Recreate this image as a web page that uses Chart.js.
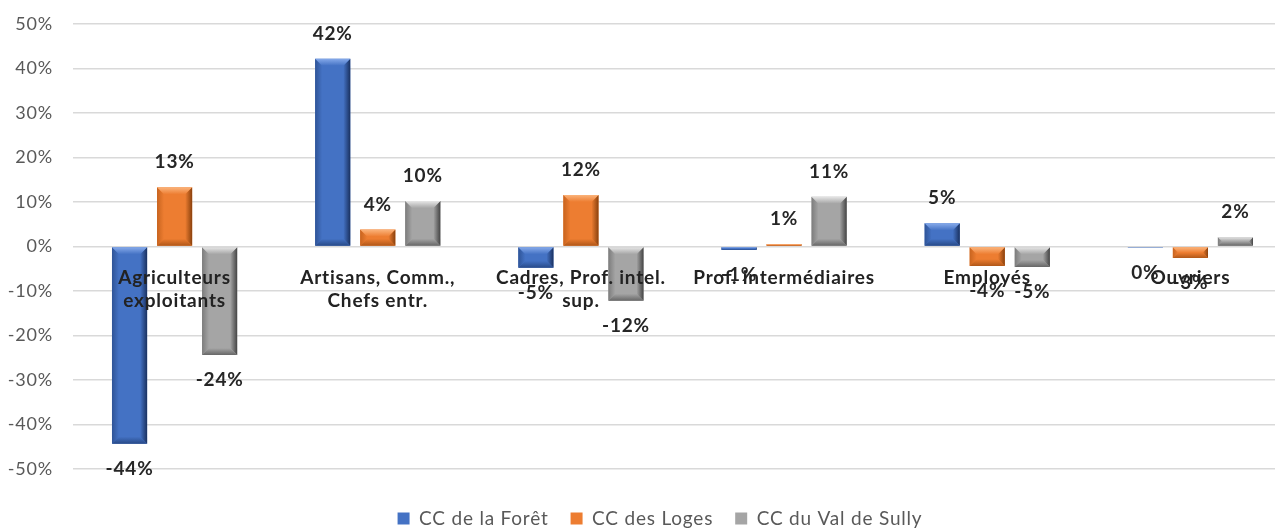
<!DOCTYPE html>
<html lang="fr">
<head>
<meta charset="utf-8">
<title>Évolution des CSP</title>
<script src="https://cdn.jsdelivr.net/npm/chart.js@4.4.1/dist/chart.umd.min.js"></script>
<style>
  html, body { margin: 0; padding: 0; background: #fff; overflow: hidden; }
  #wrap { width: 1320px; height: 538px; }
</style>
</head>
<body>
<div id="wrap"><canvas id="csp" width="1320" height="538"></canvas></div>
<script>
// catégories socio-professionnelles (axe X)
const categories = [
  ["Agriculteurs", "exploitants"],
  ["Artisans, Comm.,", "Chefs entr."],
  ["Cadres, Prof. intel.", "sup."],
  "Prof. intermédiaires",
  "Employés",
  "Ouvriers",
];

// évolution en % par communauté de communes
const seriesNames = ["CC de la Forêt", "CC des Loges", "CC du Val de Sully"];
const foret = [-44.3, 42.2, -4.8, -0.8, 5.2, -0.3];
const loges = [13.3, 3.8, 11.6, 0.5, -4.4, -2.6];
const sully = [-24.4, 10.2, -12.2, 11.2, -4.6, 2.1];

// graduations de l'axe Y
const yMin = -50;
const yMax = 50;
const yStep = 10;

// couleurs : face + biseaux (haut, gauche, droite, bas)
const shades = [
  { face: "#4472c4", top: "#86aaea", left: "#2f5497", right: "#1a3160", bottom: "#284a88" },
  { face: "#ed7d31", top: "#fbb47c", left: "#c8641f", right: "#8a410d", bottom: "#b05718" },
  { face: "#a5a5a5", top: "#e6e6e6", left: "#7c7c7c", right: "#444444", bottom: "#666666" },
];

function poly(ctx, pts, fill) {
  ctx.beginPath();
  ctx.moveTo(pts[0][0], pts[0][1]);
  for (let i = 1; i < pts.length; i++) ctx.lineTo(pts[i][0], pts[i][1]);
  ctx.closePath();
  ctx.fillStyle = fill;
  ctx.fill();
}

function grad(ctx, x0, y0, x1, y1, c0, c1) {
  const g = ctx.createLinearGradient(x0, y0, x1, y1);
  g.addColorStop(0, c0);
  g.addColorStop(1, c1);
  return g;
}

// effet "biseau" façon Excel sur chaque barre
const bevelPlugin = {
  id: "bevel",
  afterDatasetDraw(chart, args) {
    const ctx = chart.ctx;
    const s = shades[args.index];
    args.meta.data.forEach((bar) => {
      const p = bar.getProps(["x", "y", "base", "width"], true);
      const l = p.x - p.width / 2, r = p.x + p.width / 2;
      const t = Math.min(p.y, p.base), b = Math.max(p.y, p.base);
      const d = Math.min(7, (b - t) / 2, p.width / 2);
      if (d < 0.5) return;
      ctx.save();
      poly(ctx, [[l, t], [l + d, t + d], [l + d, b - d], [l, b]], grad(ctx, l, 0, l + d, 0, s.left, s.face));
      poly(ctx, [[r, t], [r - d, t + d], [r - d, b - d], [r, b]], grad(ctx, r, 0, r - d, 0, s.right, s.face));
      poly(ctx, [[l, b], [r, b], [r - d, b - d], [l + d, b - d]], grad(ctx, 0, b, 0, b - d, s.bottom, s.face));
      poly(ctx, [[l, t], [r, t], [r - d, t + d], [l + d, t + d]], grad(ctx, 0, t, 0, t + d, s.top, s.face));
      ctx.restore();
    });
  },
};

// étiquettes de valeur au-dessus / en dessous des barres
const valueLabels = {
  id: "valueLabels",
  afterDatasetsDraw(chart) {
    const ctx = chart.ctx;
    ctx.save();
    ctx.font = "bold 19px Lato";
    ctx.fillStyle = "#262626";
    ctx.textAlign = "center";
    ctx.textBaseline = "middle";
    chart.data.datasets.forEach((ds, i) => {
      const meta = chart.getDatasetMeta(i);
      meta.data.forEach((bar, j) => {
        const v = ds.data[j];
        const p = bar.getProps(["x", "y"], true);
        const y = v >= 0 ? p.y - 25 : p.y + 25;
        ctx.fillText(String(Math.round(v)) + "%", p.x, y);
      });
    });
    ctx.restore();
  },
};

// textes un peu espacés, comme dans le graphique d'origine
// (réglé avant la mise en page pour que la légende soit bien centrée)
const spacing = {
  id: "spacing",
  beforeUpdate(chart) { chart.ctx.letterSpacing = "0.8px"; },
  beforeDraw(chart) { chart.ctx.letterSpacing = "0.8px"; },
};

const ctx = document.getElementById("csp").getContext("2d");
new Chart(ctx, {
  type: "bar",
  data: {
    labels: categories,
    datasets: [foret, loges, sully].map((values, i) => ({
      label: seriesNames[i],
      data: values,
      backgroundColor: shades[i].face,
      borderWidth: 0,
      categoryPercentage: 0.665,
      barPercentage: 0.78,
    })),
  },
  options: {
    responsive: false,
    animation: false,
    devicePixelRatio: 1,
    layout: { padding: { top: 24, left: 0, right: 0, bottom: 0 } },
    plugins: {
      tooltip: { enabled: false },
      legend: {
        position: "bottom",
        labels: {
          boxWidth: 12,
          boxHeight: 12,
          padding: 22,
          color: "#595959",
          font: { family: "Lato", size: 19 },
        },
      },
    },
    scales: {
      x: {
        type: "category",
        position: { y: 0 },
        grid: { display: false, drawTicks: false },
        border: { display: false },
        ticks: {
          z: 1,
          autoSkip: false,
          maxRotation: 0,
          padding: 19,
          color: "#222222",
          font: { family: "Lato", size: 19, weight: "bold", lineHeight: 1.25 },
        },
      },
      y: {
        min: yMin,
        max: yMax,
        grid: { color: "#d9d9d9", lineWidth: 1.5, drawTicks: true, tickLength: 20, tickColor: "rgba(0,0,0,0)" },
        border: { display: false },
        ticks: {
          stepSize: yStep,
          padding: 0,
          color: "#595959",
          font: { family: "Lato", size: 18 },
          callback: (v) => v + "%",
        },
        afterFit: (s) => { s.width = 73; },
      },
      // espace vide à droite (la zone de tracé déborde du cadre)
      yRight: {
        type: "linear",
        position: "right",
        grid: { display: false, drawTicks: false },
        border: { display: false },
        ticks: { display: false },
        afterFit: (s) => { s.width = 28; },
      },
      // marge entre la zone de tracé et la légende
      xGap: {
        type: "linear",
        position: "bottom",
        grid: { display: false, drawTicks: false },
        border: { display: false },
        ticks: { display: false },
        afterFit: (s) => { s.height = 18; },
      },
    },
  },
  plugins: [spacing, bevelPlugin, valueLabels],
});
</script>
</body>
</html>
